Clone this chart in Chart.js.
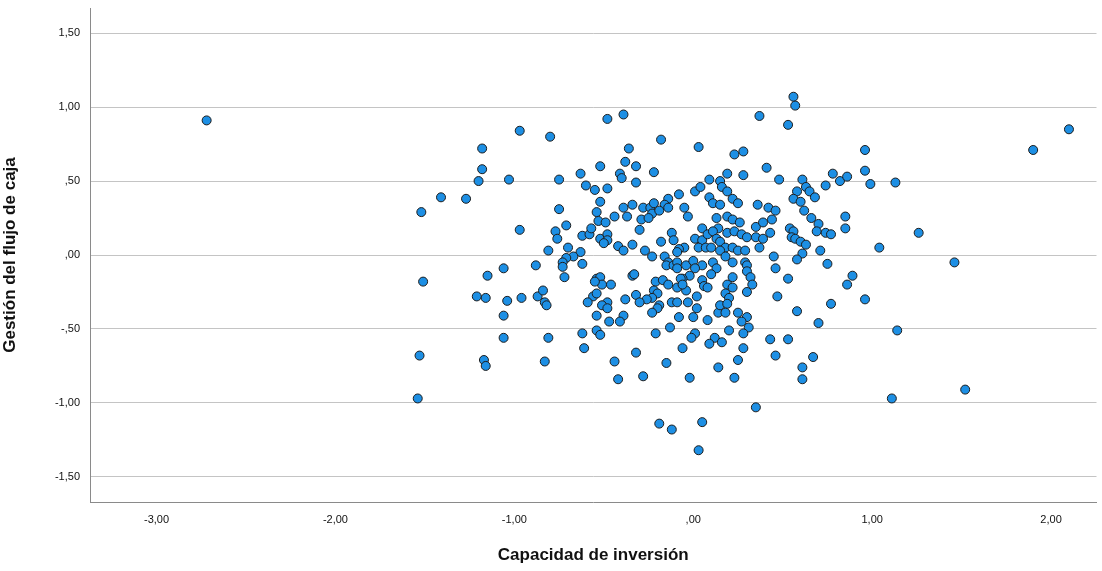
<!DOCTYPE html>
<html>
<head>
<meta charset="utf-8">
<script src="https://cdn.jsdelivr.net/npm/chart.js@4.4.1/dist/chart.umd.min.js"></script>
<style>
  html, body { margin: 0; padding: 0; background: #fff; }
  canvas { display: block; }
</style>
</head>
<body>
<canvas id="chart" width="1102" height="571"></canvas>
<script>
// Capacidad de inversión (x) / Gestión del flujo de caja (y)
const capacidad = [
  -2.72, -0.97, -1.18, -1.18, -1.20, -1.03, -1.41, -1.27, -1.52, -0.80,
  -0.97, -0.81, -1.06, -0.88, -1.15, -1.51, -1.21, -1.16, -1.04, -0.96,
  -0.87, -0.84, -0.83, -0.82, -1.06, -1.06, -0.81, -1.53, -1.17, -1.16,
  -0.83, -1.54,
  -0.48, -0.39, -0.18, 0.03, -0.36, -0.38, -0.52, -0.32, -0.63, -0.41,
  -0.40, -0.22, -0.75, -0.60, -0.55, -0.48, -0.32, -0.08, 0.01, 0.04,
  0.09, -0.52, -0.14, 0.09, -0.75, -0.54, -0.39, -0.34, -0.28, -0.24,
  -0.22, -0.16, -0.14, -0.05, 0.11, -0.23, -0.19,
  0.56, 0.57, 0.37, 0.53, 0.96, 0.23, 0.28, 0.41, 0.19, 0.28,
  0.96, 0.48, 0.61, 0.78, 0.82, 0.86, 0.99, 0.74, 0.15, 0.16,
  0.19, 0.58, 0.63, 0.65, 0.68, 0.22, 0.25, 0.56, 0.60, 0.36,
  0.42, 0.46, 0.62, 0.15,
  -0.53, -0.49, -0.44, -0.37, -0.29, -0.25, -0.03, 0.13, 0.14, -0.71,
  -0.77, -0.76, -0.62, -0.58, -0.57, -0.52, -0.48, -0.48, -0.50, -0.30,
  -0.42, -0.39, -0.34, -0.12, -0.11, -0.18, 0.01, 0.05, 0.05, 0.08,
  0.11, 0.13, -0.05, -0.08, -0.09, 0.03, 0.07, 0.10, -0.70, -0.63,
  -0.67, -0.71, -0.73, -0.73, -0.72, -0.62, -0.27, -0.23, -0.16, -0.14,
  -0.15, -0.11, -0.09, -0.09, -0.04, 0.00, 0.05, 0.01, 0.11, 0.13,
  0.10, -0.02, -0.06, 0.05, -0.34, -0.33, -0.54, -0.52, -0.51, -0.46,
  -0.55, -0.21, -0.17, -0.14, -0.07, -0.09, -0.04, -0.06, 0.06, 0.08,
  -0.22, -0.20, -0.32, -0.23, 0.02, -0.38, -0.26, -0.30, -0.56, -0.54,
  -0.59, -0.48, -0.51, -0.48, -0.19, -0.20, -0.23, -0.12, -0.09, 0.02,
  -0.03, -0.54, -0.47, -0.39, -0.41, -0.08, 0.00, 0.08, 0.14, -0.13,
  -0.21, -0.62, -0.54, -0.52, 0.01, -0.01, 0.12,
  0.19, 0.22, 0.26, 0.19, 0.23, 0.27, 0.30, 0.35, 0.39, 0.44,
  0.43, 0.35, 0.39, 0.37, 0.15, 0.18, 0.22, 0.25, 0.29, 0.15,
  0.18, 0.22, 0.29, 0.30, 0.54, 0.56, 0.55, 0.57, 0.60, 0.63,
  0.61, 0.58, 0.66, 0.70, 0.69, 0.74, 0.77, 0.85, 0.85, 0.71,
  0.75, 1.04, 0.45, 0.46, 0.53, 0.89, 0.86, 0.30, 0.32, 0.22,
  0.19, 0.22, 0.33, 0.30, 0.18, 0.20, 0.47, 0.15, 0.19, 0.18,
  0.25, 0.30, 0.27, 0.31, 0.28, 0.58, 0.77, 0.96, 0.70, 0.20,
  0.43, 0.53,
  -0.61, -0.44, -0.32, -0.42, -0.28, -0.15, -0.06, 0.09, 0.14, -0.02,
  -0.19, -0.12, 0.05, 0.03,
  0.16, 0.28, 0.25, 0.23, 0.46, 0.67, 0.61, 0.61, 0.35,
  1.13, 1.26, 1.46, 1.14, 1.11, 1.52, 1.90, 2.10
];

const gestion = [
  0.91, 0.84, 0.72, 0.58, 0.50, 0.51, 0.39, 0.38, 0.29, 0.80,
  0.17, 0.03, -0.09, -0.07, -0.14, -0.18, -0.28, -0.29, -0.31, -0.29,
  -0.28, -0.24, -0.32, -0.34, -0.41, -0.56, -0.56, -0.68, -0.71, -0.75,
  -0.72, -0.97,
  0.92, 0.95, 0.78, 0.73, 0.72, 0.63, 0.60, 0.60, 0.55, 0.55,
  0.52, 0.56, 0.51, 0.47, 0.44, 0.45, 0.49, 0.41, 0.43, 0.46,
  0.51, 0.36, 0.38, 0.39, 0.31, 0.29, 0.32, 0.34, 0.32, 0.32,
  0.35, 0.34, 0.32, 0.32, 0.35, 0.28, 0.30,
  1.07, 1.01, 0.94, 0.88, 0.71, 0.68, 0.70, 0.59, 0.55, 0.54,
  0.57, 0.51, 0.51, 0.55, 0.50, 0.53, 0.48, 0.47, 0.50, 0.46,
  0.43, 0.43, 0.46, 0.43, 0.39, 0.38, 0.35, 0.38, 0.36, 0.34,
  0.32, 0.30, 0.30, 0.34,
  0.23, 0.22, 0.26, 0.26, 0.24, 0.25, 0.26, 0.25, 0.18, 0.20,
  0.16, 0.11, 0.13, 0.14, 0.18, 0.11, 0.14, 0.10, 0.08, 0.17,
  0.06, 0.03, 0.07, 0.15, 0.10, 0.09, 0.11, 0.10, 0.18, 0.14,
  0.16, 0.11, 0.05, 0.04, 0.02, 0.05, 0.05, 0.05, 0.05, 0.02,
  -0.01, -0.02, -0.05, -0.08, -0.15, -0.06, 0.03, -0.01, -0.01, -0.05,
  -0.07, -0.07, -0.05, -0.09, -0.07, -0.04, -0.07, -0.09, -0.05, -0.09,
  -0.13, -0.14, -0.16, -0.17, -0.14, -0.13, -0.16, -0.15, -0.20, -0.20,
  -0.18, -0.18, -0.17, -0.20, -0.16, -0.22, -0.24, -0.20, -0.21, -0.22,
  -0.24, -0.26, -0.27, -0.29, -0.28, -0.30, -0.30, -0.32, -0.28, -0.26,
  -0.32, -0.32, -0.34, -0.36, -0.34, -0.36, -0.39, -0.32, -0.32, -0.36,
  -0.32, -0.41, -0.45, -0.41, -0.45, -0.42, -0.42, -0.44, -0.39, -0.49,
  -0.53, -0.53, -0.51, -0.54, -0.53, -0.56, -0.56,
  0.26, 0.24, 0.22, 0.15, 0.16, 0.14, 0.12, 0.19, 0.22, 0.24,
  0.15, 0.12, 0.11, 0.05, 0.09, 0.05, 0.05, 0.03, 0.03, 0.03,
  -0.01, -0.05, -0.05, -0.07, 0.18, 0.16, 0.12, 0.11, 0.09, 0.07,
  0.01, -0.03, 0.25, 0.21, 0.16, 0.15, 0.14, 0.26, 0.18, 0.03,
  -0.06, 0.05, -0.01, -0.09, -0.16, -0.14, -0.20, -0.11, -0.15, -0.15,
  -0.20, -0.22, -0.20, -0.25, -0.26, -0.29, -0.28, -0.34, -0.33, -0.39,
  -0.39, -0.42, -0.45, -0.49, -0.53, -0.38, -0.33, -0.30, -0.46, -0.51,
  -0.57, -0.57,
  -0.63, -0.72, -0.66, -0.84, -0.82, -0.73, -0.63, -0.60, -0.76, -0.83,
  -1.14, -1.18, -1.13, -1.32,
  -0.59, -0.63, -0.71, -0.83, -0.68, -0.69, -0.76, -0.84, -1.03,
  0.49, 0.15, -0.05, -0.51, -0.97, -0.91, 0.71, 0.85
];

const xTicks = [-3, -2, -1, 0, 1, 2];
const xTickLabels = ['-3,00', '-2,00', '-1,00', ',00', '1,00', '2,00'];
const yTicks = [-1.5, -1, -0.5, 0, 0.5, 1, 1.5];
const yTickLabels = ['-1,50', '-1,00', '-,50', ',00', ',50', '1,00', '1,50'];

const points = capacidad.map((x, i) => ({ x: x, y: gestion[i] }));

const tickFont = { family: '"Liberation Sans", Arial, sans-serif', size: 11 };
const titleFont = { family: '"Liberation Sans", Arial, sans-serif', size: 17, weight: 'bold' };

const ctx = document.getElementById('chart').getContext('2d');
new Chart(ctx, {
  type: 'scatter',
  data: {
    datasets: [{
      data: points,
      pointRadius: 4.5,
      pointHoverRadius: 4.5,
      backgroundColor: '#1d8fe4',
      borderColor: '#1c1c1c',
      borderWidth: 1
    }]
  },
  options: {
    responsive: false,
    animation: false,
    layout: { padding: { top: 8, right: 5, left: 0, bottom: 0 } },
    plugins: {
      legend: { display: false },
      tooltip: { enabled: false }
    },
    scales: {
      x: {
        type: 'linear',
        min: -3.372,
        max: 2.254,
        afterBuildTicks: s => { s.ticks = xTicks.map(v => ({ value: v })); },
        afterFit: s => { s.height = 69; s.paddingLeft = 0; s.paddingRight = 0; },
        ticks: {
          callback: v => xTickLabels[xTicks.indexOf(v)],
          font: tickFont,
          color: '#111',
          padding: 11,
          maxRotation: 0,
          autoSkip: false
        },
        grid: { display: false, drawTicks: false },
        border: { display: true, color: '#8a8a8a', width: 1 },
        title: {
          display: true,
          text: 'Capacidad de inversión',
          font: titleFont,
          color: '#111',
          padding: { top: 0, bottom: 5 }
        }
      },
      y: {
        type: 'linear',
        min: -1.67,
        max: 1.67,
        afterBuildTicks: s => { s.ticks = yTicks.map(v => ({ value: v })); },
        afterFit: s => { s.width = 90; s.paddingTop = 0; s.paddingBottom = 0; },
        ticks: {
          callback: v => yTickLabels[yTicks.indexOf(v)],
          font: tickFont,
          color: '#111',
          padding: 10
        },
        grid: { color: '#c4c4c4', lineWidth: 1, drawTicks: false },
        border: { display: true, color: '#8a8a8a', width: 1 },
        title: {
          display: true,
          text: 'Gestión del flujo de caja',
          font: titleFont,
          color: '#111',
          padding: { top: 0, bottom: 9 }
        }
      }
    }
  }
});
</script>
</body>
</html>
